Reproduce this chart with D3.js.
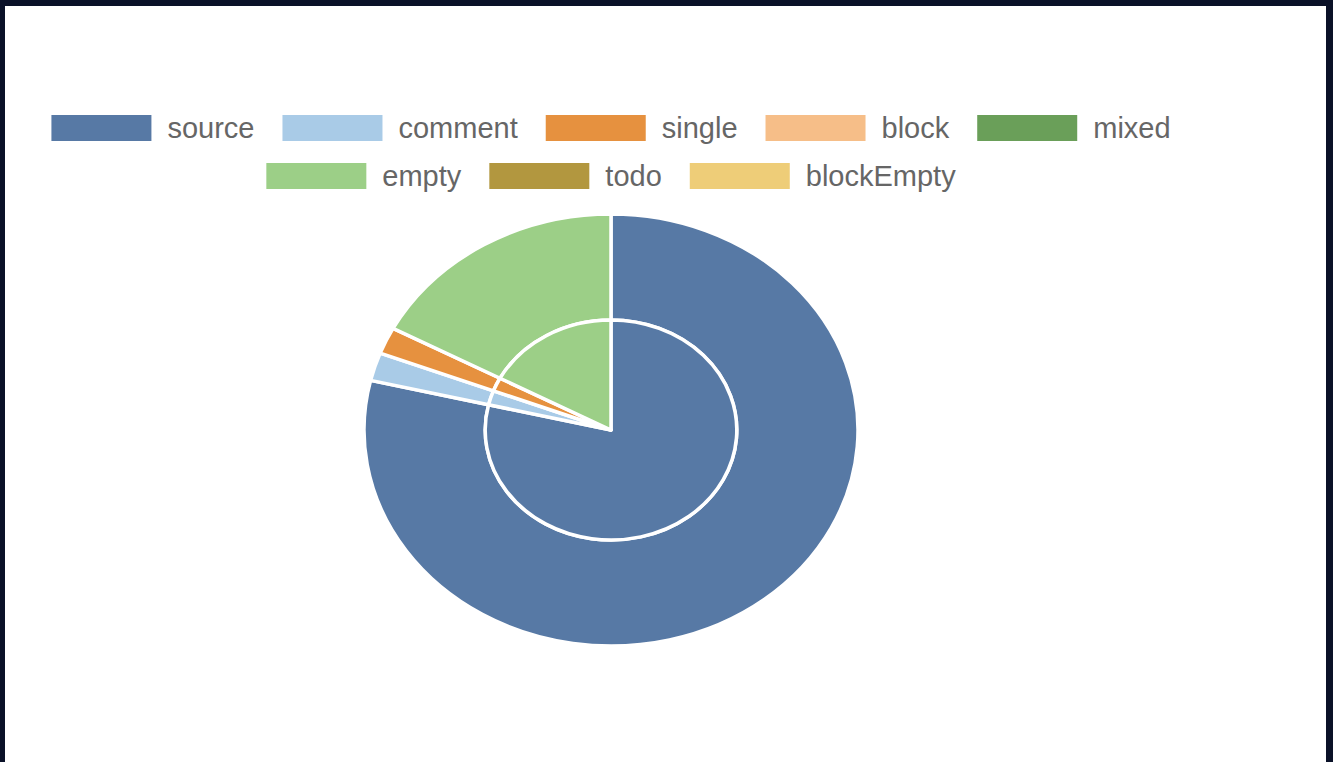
<!DOCTYPE html>
<html>
<head>
<meta charset="utf-8">
<script src="https://cdn.jsdelivr.net/npm/d3@7"></script>
<style>
  html, body { margin: 0; padding: 0; background: #0a1128; }
  svg { display: block; }
</style>
</head>
<body>
<div id="chart"></div>
<script>
// Data:
var categories = ["source", "comment", "single", "block", "mixed", "empty", "todo", "blockEmpty"];
var values = [1573, 42, 40, 0, 0, 344, 0, 0];
var colors = ["#5779a5", "#a9cbe7", "#e6913f", "#f6be88", "#6a9f59", "#9ccf87", "#b2973f", "#eecd78"];

// Constants:
var W = 1333, H = 762;
var cx = 611, cy = 430,
  radius = 216,
  innerR = 110,
  stretch = 247 / 216,
  boxW = 100, boxH = 26,
  fontSize = 29,
  legendRows = [[0, 1, 2, 3, 4], [5, 6, 7]],
  rowTop = [115, 163],
  itemGap = 28;

var svg = d3.select("#chart").append("svg")
  .attr("width", W)
  .attr("height", H);

// dark frame with the white card inside
svg.append("rect").attr("width", W).attr("height", H).attr("fill", "#0a1128");
svg.append("rect").attr("x", 5).attr("y", 6).attr("width", 1321).attr("height", H - 6).attr("fill", "#ffffff");

var table = categories.map(function(c, i) { return { name: c, value: values[i], color: colors[i] }; });

// Pie: two rings of the same data, squeezed into an ellipse
var pie = d3.pie().sort(null).value(function(d) { return d.value; });
var arcs = pie(table);

var pieG = svg.append("g")
  .attr("transform", "translate(" + cx + "," + cy + ") scale(" + stretch + ",1)");

var outerArc = d3.arc().innerRadius(innerR).outerRadius(radius);
var innerArc = d3.arc().innerRadius(0).outerRadius(innerR);

[outerArc, innerArc].forEach(function(arc) {
  pieG.append("g").selectAll("path")
    .data(arcs.filter(function(d) { return d.data.value > 0; }))
    .enter()
    .append("path")
    .attr("d", arc)
    .attr("fill", function(d) { return d.data.color; })
    .attr("stroke", "#ffffff")
    .attr("stroke-width", 3.5)
    .attr("stroke-linejoin", "round")
    .attr("vector-effect", "non-scaling-stroke");
});

// Legend: centred rows of box + label
var legend = svg.append("g").attr("font-family", "'Liberation Sans', Arial, Helvetica, sans-serif")
  .attr("font-size", fontSize);

legendRows.forEach(function(row, r) {
  var items = row.map(function(i) {
    var g = legend.append("g");
    g.append("rect")
      .attr("width", boxW)
      .attr("height", boxH)
      .attr("fill", colors[i]);
    var t = g.append("text")
      .attr("x", boxW + 16)
      .attr("y", boxH - 3)
      .attr("fill", "#666666")
      .text(categories[i]);
    return { g: g, w: boxW + 16 + t.node().getComputedTextLength() };
  });
  var total = d3.sum(items, function(d) { return d.w; }) + itemGap * (items.length - 1);
  var x = cx - total / 2;
  items.forEach(function(it) {
    it.g.attr("transform", "translate(" + x + "," + rowTop[r] + ")");
    x += it.w + itemGap;
  });
});
</script>
</body>
</html>
